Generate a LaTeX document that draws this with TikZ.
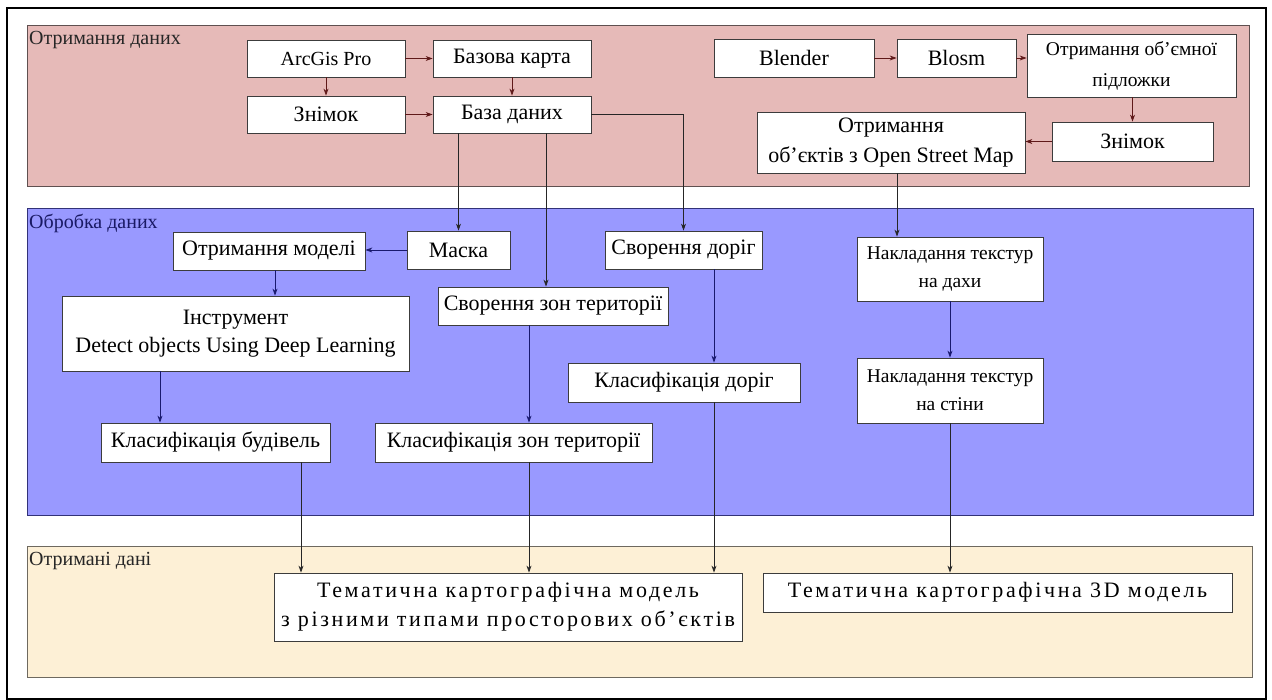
\documentclass[tikz,border=0pt]{standalone}
\usepackage{fontspec}
\setmainfont{Liberation Serif}
\newfontfamily\widefont[LetterSpace=12]{Liberation Serif}
\usetikzlibrary{arrows.meta}
\definecolor{pinkband}{RGB}{230,186,184}
\definecolor{pinkline}{RGB}{95,80,80}
\definecolor{blueband}{RGB}{153,153,255}
\definecolor{blueline}{RGB}{50,50,120}
\definecolor{yelband}{RGB}{253,240,214}
\definecolor{yelline}{RGB}{110,105,95}
\definecolor{redarrow}{RGB}{95,25,25}
\definecolor{navyarrow}{RGB}{25,25,110}
\definecolor{boxline}{RGB}{60,60,60}
\definecolor{navytext}{RGB}{25,25,100}
\tikzset{
  box/.style={draw=boxline, fill=white, line width=0.8pt, align=center, inner sep=0pt,
    font=\fontsize{22}{28}\selectfont},
  smallbox/.style={box, font=\fontsize{19.5}{28}\selectfont},
  bigbox/.style={box, font=\widefont\fontsize{22}{29}\selectfont},
  lbl/.style={anchor=north west, inner sep=0pt, font=\fontsize{20}{22}\selectfont},
  arr/.style={-{Stealth[length=7pt,width=5pt]}, line width=0.8pt},
  redarr/.style={arr, draw=redarrow},
  navyarr/.style={arr, draw=navyarrow},
  blkarr/.style={arr, draw=black!85},
}
\begin{document}
\begin{tikzpicture}[x=1pt,y=-1pt]
\useasboundingbox (0,0) rectangle (1272,700);
\fill[white] (0,0) rectangle (1272,700);
% outer frame
\draw[line width=1.5pt] (7,8) rectangle (1266,699);
% bands
\filldraw[fill=pinkband, draw=pinkline, line width=1pt] (27,26) rectangle (1249,187);
\filldraw[fill=blueband, draw=blueline, line width=1pt] (27,209) rectangle (1253,515);
\filldraw[fill=yelband, draw=yelline, line width=1pt] (27,546) rectangle (1252,677);
\node[lbl, text=black!85] (l1) at (29,31) {Отримання даних};
\node[lbl, text=navytext] (l2) at (29,214) {Обробка даних};
\node[lbl, text=black!85] (l3) at (29,552) {Отримані дані};

% top band nodes
\node[box, minimum width=158pt, minimum height=37pt, font=\fontsize{20}{24}\selectfont] (arc) at (326,58.5) {ArcGis Pro};
\node[box, minimum width=158pt, minimum height=37pt] (bk) at (512,58.5) {Базова карта};
\node[box, minimum width=158pt, minimum height=37pt] (zn1) at (326,114.5) {Знімок};
\node[box, minimum width=158pt, minimum height=37pt] (bd) at (512,114.5) {База даних};
\node[box, minimum width=160pt, minimum height=38pt] (bl) at (794,58) {Blender};
\node[box, minimum width=119pt, minimum height=38pt] (bs) at (956.5,58) {Blosm};
\node[smallbox, minimum width=209pt, minimum height=63pt, font=\fontsize{19.5}{31}\selectfont] (pd) at (1131.5,65.5) {Отримання об’ємної\\підложки};
\node[box, minimum width=161pt, minimum height=39pt] (zn2) at (1132.5,141.5) {Знімок};
\node[box, minimum width=268pt, minimum height=61pt, font=\fontsize{22}{30}\selectfont] (osm) at (891,142.5) {Отримання\\об’єктів з Open Street Map};

% middle band nodes
\node[box, minimum width=192pt, minimum height=38pt] (om) at (269,251) {Отримання моделі};
\node[box, minimum width=103pt, minimum height=38pt] (mk) at (458.5,250) {Маска};
\node[box, minimum width=347pt, minimum height=75pt] (ins) at (235.5,333.5) {Інструмент\\Detect objects Using Deep Learning};
\node[box, minimum width=230pt, minimum height=38pt] (szt) at (553,306) {Сворення зон території};
\node[box, minimum width=157pt, minimum height=38pt] (sd) at (683.5,250) {Сворення доріг};
\node[box, minimum width=232pt, minimum height=39pt] (kd) at (684,382.5) {Класифікація доріг};
\node[box, minimum width=229pt, minimum height=39pt] (kb) at (215.5,442.5) {Класифікація будівель};
\node[box, minimum width=277pt, minimum height=39pt] (kz) at (513.5,442.5) {Класифікація зон території};
\node[smallbox, minimum width=186pt, minimum height=64pt] (nd) at (950,269) {Накладання текстур\\на дахи};
\node[smallbox, minimum width=186pt, minimum height=65pt] (ns) at (950,390.5) {Накладання текстур\\на стіни};

% bottom band nodes
\node[bigbox, minimum width=468pt, minimum height=68pt] (big) at (508,607) {Тематична картографічна модель\\з різними типами просторових об’єктів};
\node[bigbox, minimum width=469pt, minimum height=39pt] (td) at (997.5,592.5) {Тематична картографічна 3D модель};

% helper x positions
\coordinate (xa) at (546,0);
\coordinate (xb) at (897,0);
\coordinate (xc) at (529,0);
\coordinate (xd) at (714,0);
\coordinate (xe) at (160,0);
\coordinate (xf) at (301,0);
\coordinate (xg) at (275,0);

% top band arrows
\draw[redarr] (arc.east) -- (bk.west);
\draw[redarr] (arc.south) -- (zn1.north);
\draw[redarr] (bk.south) -- (bd.north);
\draw[redarr] (zn1.east) -- (bd.west);
\draw[redarr] (bl.east) -- (bs.west);
\draw[redarr] (bs.east) -- (bs.east -| pd.west);
\draw[redarr] (pd.south -| zn2.north) -- (zn2.north);
\draw[redarr] (zn2.west) -- (zn2.west -| osm.east);

% top to middle
\draw[blkarr] (bd.south -| mk.north) -- (mk.north);
\draw[blkarr] (bd.south -| xa) -- (szt.north -| xa);
\draw[blkarr] (bd.east) -| (sd.north);
\draw[blkarr] (osm.south -| xb) -- (nd.north -| xb);

% middle arrows
\draw[navyarr] (mk.west) -- (mk.west -| om.east);
\draw[navyarr] (om.south -| xg) -- (ins.north -| xg);
\draw[navyarr] (ins.south -| xe) -- (kb.north -| xe);
\draw[navyarr] (szt.south -| xc) -- (kz.north -| xc);
\draw[navyarr] (sd.south -| xd) -- (kd.north -| xd);
\draw[navyarr] (nd.south) -- (ns.north);

% middle to bottom
\draw[blkarr] (kb.south -| xf) -- (big.north -| xf);
\draw[blkarr] (kz.south -| xc) -- (big.north -| xc);
\draw[blkarr] (kd.south -| xd) -- (big.north -| xd);
\draw[blkarr] (ns.south) -- (ns.south |- td.north);
\end{tikzpicture}
\end{document}
